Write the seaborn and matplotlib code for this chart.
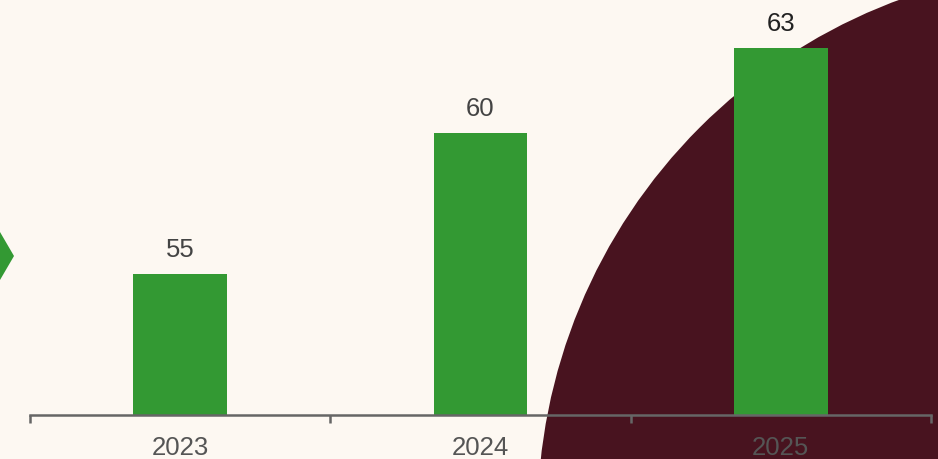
import matplotlib
matplotlib.use("Agg")
import matplotlib.pyplot as plt
import seaborn as sns
import pandas as pd
from matplotlib.patches import Circle, Polygon
from matplotlib.transforms import Affine2D

years = ["2023", "2024", "2025"]
values = [55, 60, 63]

BG = "#FDF8F2"
GREEN = "#339933"
MAROON = "#48131F"
AXIS = "#666666"

sns.set_theme(style="white")
plt.rcParams['font.family'] = ['Liberation Sans', 'DejaVu Sans']

W, H = 938, 459
fig = plt.figure(figsize=(W / 100, H / 100), dpi=100, facecolor=BG)

# pixel transform: (x from left, y from top)
pix = Affine2D().scale(1 / W, -1 / H).translate(0, 1) + fig.transFigure
fig.patches.append(Circle((1091, 519), 553.5, transform=pix, facecolor=MAROON, edgecolor="none", zorder=0))
fig.patches.append(Polygon([(-30, 232), (0, 232), (14, 256), (0, 280), (-30, 280)], closed=True,
                           transform=pix, facecolor=GREEN, edgecolor="none", zorder=0))

left = 30 / W
right = 931 / W
bottom = (H - 415) / H
ax = fig.add_axes([left, bottom, right - left, 415 / H])
ax.set_zorder(2)
ax.set_facecolor("none")
ax.patch.set_alpha(0)

df = pd.DataFrame({"year": years, "value": values})
sns.barplot(data=df, x="year", y="value", color=GREEN, saturation=1, width=0.312,
            linewidth=0, edgecolor="none", ax=ax, zorder=3)

ax.set_xlim(-0.5, 2.5)
ax.set_ylim(50, 50 + 415 / 28.22)

for i, v in enumerate(values):
    ax.annotate(str(v), (i, v), xytext=(0, 8.5), textcoords="offset points", ha="center", va="bottom",
                fontsize=18.5, color="#444444" if i < 2 else "#222222")

for s in ["top", "right", "left"]:
    ax.spines[s].set_visible(False)
ax.spines["bottom"].set_color(AXIS)
ax.spines["bottom"].set_linewidth(1.8)
ax.spines["bottom"].set_zorder(4)

ax.set_yticks([])
ax.set_xticks(range(len(years)))
ax.set_xticklabels(years)
ax.set_xticks([-0.5, 0.5, 1.5, 2.5], minor=True)
ax.tick_params(axis="x", which="both", bottom=True)
ax.tick_params(axis="x", which="major", length=0, pad=15, labelsize=18.5, labelcolor="#555555")
ax.tick_params(axis="x", which="minor", length=6, width=1.8, color=AXIS, direction="out")
ax.set_xlabel("")
ax.set_ylabel("")

fig.savefig("out.png", dpi=100, facecolor=BG)
